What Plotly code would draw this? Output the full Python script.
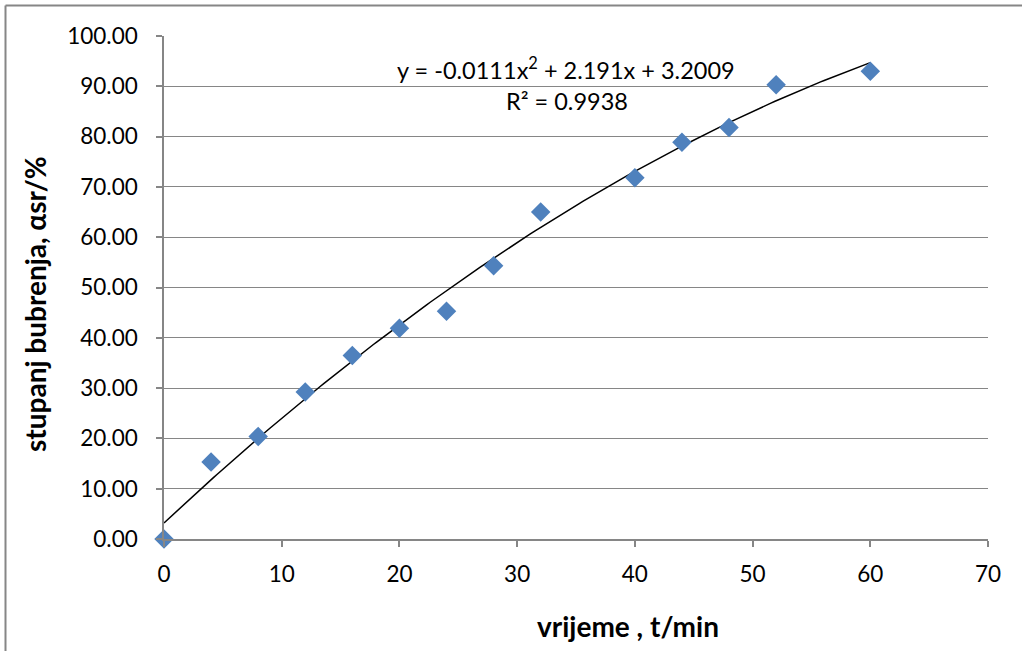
import numpy as np
import plotly.graph_objects as go

# Data
time_min = [0, 4, 8, 12, 16, 20, 24, 28, 32, 40, 44, 48, 52, 60]
swelling = [0.0, 15.3, 20.4, 29.2, 36.5, 41.9, 45.3, 54.3, 65.0, 71.8, 78.9, 81.8, 90.3, 93.0]

# Trendline coefficients as displayed on the chart (a*x^2 + b*x + c)
trend_coef = [-0.0111, 2.191, 3.2009]
trend_x_range = [0, 60]

x_ticks = [0, 10, 20, 30, 40, 50, 60, 70]
y_ticks = [0, 10, 20, 30, 40, 50, 60, 70, 80, 90, 100]

FONT = "Lato"
GRAY = "#868686"

tx = np.linspace(trend_x_range[0], trend_x_range[1], 200)
ty = np.polyval(trend_coef, tx)

fig = go.Figure()
fig.add_trace(go.Scatter(x=tx, y=ty, mode="lines",
                         line=dict(color="black", width=1.5),
                         hoverinfo="skip", showlegend=False))
fig.add_trace(go.Scatter(x=time_min, y=swelling, mode="markers",
                         marker=dict(symbol="diamond", size=15, color="#4F81BD",
                                     line=dict(width=0)),
                         cliponaxis=False, showlegend=False))

L, R, T, B = 164, 34, 36, 112
W, H = 1022, 651
pw, ph = W - L - R, H - T - B

def px_x(p):
    return (p - L) / pw

def px_y(p):
    return (H - B - p) / ph

fig.update_layout(
    width=W, height=H,
    margin=dict(l=L, r=R, t=T, b=B),
    paper_bgcolor="white", plot_bgcolor="white",
    font=dict(family=FONT, size=22, color="black"),
    xaxis=dict(range=[0, 70], tickmode="array", tickvals=x_ticks,
               showgrid=False, zeroline=False, showline=True,
               linecolor=GRAY, linewidth=1.5, ticks="outside", ticklen=6,
               tickcolor=GRAY, tickwidth=1.5, tickfont=dict(size=22.5),
               ticklabelstandoff=8),
    yaxis=dict(range=[0, 100], tickmode="array", tickvals=y_ticks,
               tickformat=".2f", showgrid=True, gridcolor=GRAY, gridwidth=1.2,
               zeroline=False, showline=True, linecolor=GRAY, linewidth=1.5,
               ticks="outside", ticklen=6, tickcolor=GRAY, tickwidth=1.5,
               tickfont=dict(size=22.5), ticklabelstandoff=14),
    annotations=[
        dict(text="<b>vrijeme , t/min</b>", xref="paper", yref="paper",
             x=px_x(628), y=px_y(626), showarrow=False,
             font=dict(size=28, family=FONT, color="black"),
             xanchor="center", yanchor="middle"),
        dict(text="<b>stupanj bubrenja, αsr/%</b>", xref="paper", yref="paper",
             x=px_x(35), y=px_y(304), showarrow=False, textangle=-90,
             font=dict(size=28, family=FONT, color="black"),
             xanchor="center", yanchor="middle"),
        dict(text="y = -0.0111x<sup>2</sup> + 2.191x + 3.2009", xref="paper", yref="paper",
             x=px_x(566), y=px_y(68), showarrow=False,
             font=dict(size=23.5, family=FONT), xanchor="center", yanchor="middle"),
        dict(text="R² = 0.9938", xref="paper", yref="paper",
             x=px_x(567), y=px_y(101), showarrow=False,
             font=dict(size=23.5, family=FONT), xanchor="center", yanchor="middle"),
    ],
    shapes=[
        dict(type="line", xref="paper", yref="paper",
             x0=px_x(5.5), x1=px_x(5.5), y0=px_y(660), y1=px_y(5.5),
             line=dict(color=GRAY, width=2)),
        dict(type="line", xref="paper", yref="paper",
             x0=px_x(5.5), x1=px_x(1030), y0=px_y(5.5), y1=px_y(5.5),
             line=dict(color=GRAY, width=2)),
    ],
)

fig.write_html("out.html", config={"displayModeBar": False},
               post_script="document.body.style.margin='0';")
